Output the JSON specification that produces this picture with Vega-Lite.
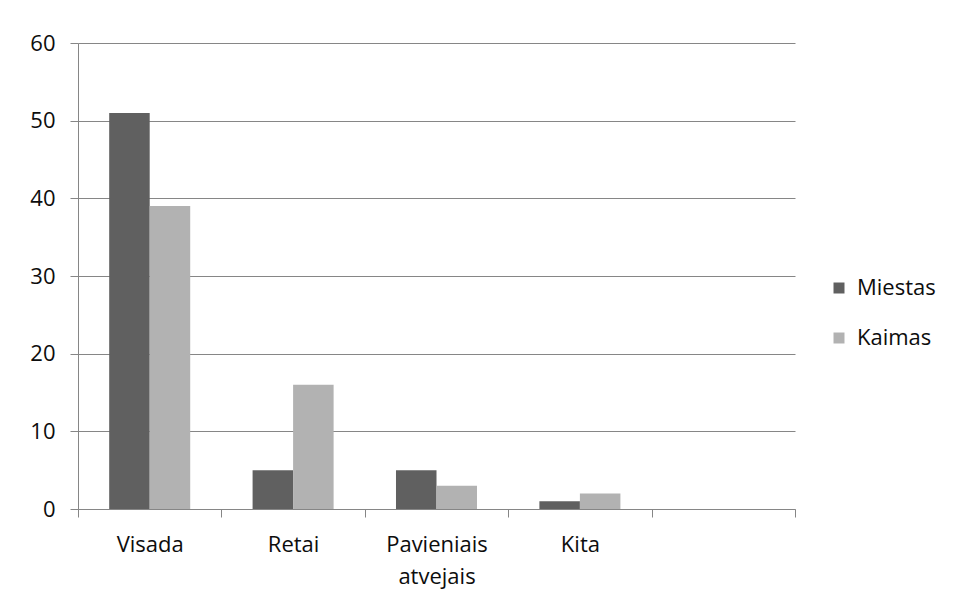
{
  "$schema": "https://vega.github.io/schema/vega-lite/v6.json",
  "width": 717,
  "height": 466,
  "autosize": "none",
  "padding": {"left": 78, "top": 43, "right": 162, "bottom": 94},
  "background": "white",
  "config": {
    "view": {"stroke": null},
    "font": "Open Sans",
    "axis": {
      "labelFont": "Open Sans",
      "labelFontSize": 22,
      "labelColor": "#0d0d0d",
      "domainColor": "#868686",
      "tickColor": "#868686",
      "gridColor": "#868686",
      "gridOpacity": 1,
      "domainWidth": 1,
      "tickWidth": 1,
      "gridWidth": 1
    }
  },
  "data": {
    "values": [
      {"kategorija": "Visada", "grupe": "Miestas", "reiksme": 51},
      {"kategorija": "Visada", "grupe": "Kaimas", "reiksme": 39},
      {"kategorija": "Retai", "grupe": "Miestas", "reiksme": 5},
      {"kategorija": "Retai", "grupe": "Kaimas", "reiksme": 16},
      {"kategorija": "Pavieniais atvejais", "grupe": "Miestas", "reiksme": 5},
      {"kategorija": "Pavieniais atvejais", "grupe": "Kaimas", "reiksme": 3},
      {"kategorija": "Kita", "grupe": "Miestas", "reiksme": 1},
      {"kategorija": "Kita", "grupe": "Kaimas", "reiksme": 2}
    ]
  },
  "mark": {"type": "bar"},
  "encoding": {
    "x": {
      "field": "kategorija",
      "type": "nominal",
      "sort": null,
      "scale": {
        "domain": ["Visada", "Retai", "Pavieniais atvejais", "Kita", " "],
        "paddingInner": 0,
        "paddingOuter": 0
      },
      "axis": {
        "title": null,
        "labelAngle": 0,
        "tickBand": "extent",
        "tickSize": 8,
        "labelPadding": 17,
        "labelLineHeight": 32,
        "labelExpr": "datum.label == 'Pavieniais atvejais' ? ['Pavieniais', 'atvejais'] : datum.label"
      }
    },
    "xOffset": {
      "field": "grupe",
      "type": "nominal",
      "sort": ["Miestas", "Kaimas"],
      "scale": {"domain": ["Miestas", "Kaimas"], "paddingInner": 0, "paddingOuter": 0.77}
    },
    "y": {
      "field": "reiksme",
      "type": "quantitative",
      "scale": {"domain": [0, 60], "nice": false},
      "axis": {
        "title": null,
        "values": [0, 10, 20, 30, 40, 50, 60],
        "tickSize": 8,
        "labelPadding": 15,
        "grid": true
      }
    },
    "color": {
      "field": "grupe",
      "type": "nominal",
      "sort": ["Miestas", "Kaimas"],
      "scale": {"domain": ["Miestas", "Kaimas"], "range": ["#606060", "#b2b2b2"]},
      "legend": {
        "title": null,
        "orient": "none",
        "legendX": 750,
        "legendY": 234,
        "symbolType": "square",
        "symbolSize": 121,
        "symbolStrokeWidth": 0,
        "labelFont": "Open Sans",
        "labelFontSize": 22,
        "labelColor": "#0d0d0d",
        "labelOffset": 7,
        "rowPadding": 28
      }
    }
  }
}
